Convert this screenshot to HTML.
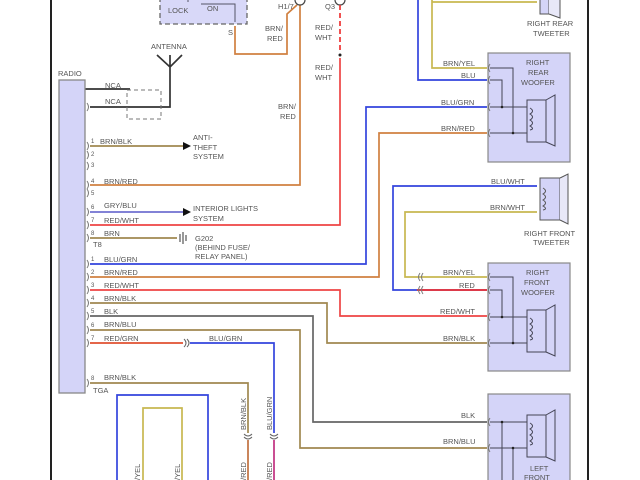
<!DOCTYPE html>
<html><head><meta charset="utf-8"><style>
html,body{margin:0;padding:0;background:#fff;width:640px;height:480px;overflow:hidden}
text{font-family:"Liberation Sans",sans-serif;font-size:7.5px;fill:#555}
.n{font-size:6px}
</style></head><body>
<svg width="640" height="480" viewBox="0 0 640 480" xmlns="http://www.w3.org/2000/svg">
<g fill="none" stroke-width="1.7">
<line x1="51" y1="0" x2="51" y2="480" stroke="#222" stroke-width="2"/>
<line x1="588" y1="0" x2="588" y2="480" stroke="#222" stroke-width="2"/>
<rect x="160" y="-4" width="87" height="28" fill="#d8d8f8" stroke="#666" stroke-dasharray="5,3" stroke-width="1.3"/>
<path d="M201 4H235V22" stroke="#556" stroke-width="1"/>
<line x1="188" y1="2" x2="188" y2="-2" stroke="#556" stroke-width="1"/>
<path d="M235 26V54H287V14L297 5" stroke="#d08040"/>
<path d="M300 4V185H90" stroke="#d08040"/>
<circle cx="300" cy="0" r="5" fill="#fff" stroke="#444" stroke-width="1.2"/>
<circle cx="340" cy="0" r="5" fill="#fff" stroke="#444" stroke-width="1.2"/>
<line x1="340" y1="5" x2="340" y2="50" stroke="#e33" stroke-dasharray="5,3"/>
<circle cx="340" cy="55" r="1.5" fill="#222" stroke="none"/>
<path d="M340 58V225H90" stroke="#e44"/>
<path d="M157 55L170 67L182 55M170 55V107H90" stroke="#333"/>
<line x1="85" y1="89" x2="130" y2="89" stroke="#333"/>
<rect x="127" y="90" width="34" height="29" stroke="#777" stroke-dasharray="4,3" stroke-width="1"/>
<rect x="59" y="80" width="26" height="313" fill="#d4d4f8" stroke="#888" stroke-width="1.3"/>
<line x1="90" y1="146" x2="188" y2="146" stroke="#a08850"/>
<polygon points="183,142 191,146 183,150" fill="#111" stroke="none"/>
<line x1="90" y1="212" x2="188" y2="212" stroke="#7070d0"/>
<polygon points="183,208 191,212 183,216" fill="#111" stroke="none"/>
<line x1="90" y1="238" x2="177" y2="238" stroke="#a08850"/>
<path d="M180 234V242M183 232V244M186 235V241" stroke="#333" stroke-width="1"/>
<path d="M90 264H366V107H487" stroke="#3344dd"/>
<path d="M90 277H379V133H487" stroke="#d08040"/>
<path d="M90 290H340V316H487" stroke="#e44"/>
<path d="M90 303H327V343H487" stroke="#a08850"/>
<path d="M90 316H313V422H487" stroke="#666"/>
<path d="M90 330H300V448H487" stroke="#a08850"/>
<path d="M90 343H183" stroke="#e05030"/>
<path d="M190 343H274V433" stroke="#3344dd"/>
<path d="M274 440V480" stroke="#c03080"/>
<path d="M90 383H248V433" stroke="#a08850"/>
<path d="M248 440V480" stroke="#c07040"/>
<path d="M184 339Q188 343 184 347M187 339Q191 343 187 347" stroke="#666" stroke-width="1"/>
<path d="M244 434Q248 438 252 434M244 437Q248 441 252 437M270 434Q274 438 278 434M270 437Q274 441 278 437" stroke="#666" stroke-width="1"/>
<path d="M117 480V395H208V480" stroke="#3344dd"/>
<path d="M143 480V408H182V480" stroke="#c8b850"/>
<path d="M418 0V80H487" stroke="#3344dd"/>
<path d="M432 0V68H487" stroke="#c8b850"/>
<path d="M432 2H537" stroke="#c8b850"/>
<rect x="540" y="-4" width="9" height="18" fill="#d4d4f8" stroke="#555" stroke-width="1"/>
<path d="M549 -4L560 -8V18L549 14" fill="#e8e8f8" stroke="#555" stroke-width="1"/>
<path d="M537 186H393V290H487" stroke="#3344dd"/>
<path d="M537 212H405V277H487" stroke="#c8b850"/>
<path d="M417 290H487" stroke="#e33"/>
<rect x="540" y="178" width="20" height="42" fill="#d4d4f8" stroke="#555" stroke-width="1"/>
<path d="M560 178L568 174V224L560 220" fill="#e8e8f8" stroke="#555" stroke-width="1"/>
<path d="M543 188q5 3 0 6q5 3 0 6q5 3 0 6q5 3 0 4" stroke="#555" stroke-width="1"/>
<rect x="488" y="53" width="82" height="109" fill="#d4d4f8" stroke="#888" stroke-width="1.2"/>
<rect x="488" y="263" width="82" height="108" fill="#d4d4f8" stroke="#888" stroke-width="1.2"/>
<rect x="488" y="394" width="82" height="100" fill="#d4d4f8" stroke="#888" stroke-width="1.2"/>
</g>
<g fill="none" stroke="#777" stroke-width="1">
<path d="M87 142q3 4 0 8M87 151q3 4 0 8M87 162q3 4 0 8M87 181q3 4 0 8M87 189q3 4 0 8M87 208q3 4 0 8M87 221q3 4 0 8M87 234q3 4 0 8M87 103q3 4 0 8"/>
<path d="M87 260q3 4 0 8M87 273q3 4 0 8M87 286q3 4 0 8M87 299q3 4 0 8M87 312q3 4 0 8M87 326q3 4 0 8M87 339q3 4 0 8M87 379q3 4 0 8"/>
<path d="M490 64q-3 4 0 8M490 76q-3 4 0 8M490 103q-3 4 0 8M490 129q-3 4 0 8M490 273q-3 4 0 8M490 286q-3 4 0 8M490 313q-3 4 0 8M490 339q-3 4 0 8M490 418q-3 4 0 8M490 444q-3 4 0 8"/>
<path d="M420 273q-3 4 0 8M423 273q-3 4 0 8M420 286q-3 4 0 8M423 286q-3 4 0 8"/>
</g>
<g fill="none" stroke="#445" stroke-width="1">
<path d="M490 68H513V133M490 80H502V107M490 107H527M490 133H527"/>
<rect x="527" y="100" width="19" height="42"/><path d="M546 100L555 95V146L546 142"/>
<path d="M530 108q5 3 0 6q5 3 0 6q5 3 0 6q5 3 0 4"/>
<path d="M490 277H513V343M490 290H502V317M490 317H527M490 343H527"/>
<rect x="527" y="310" width="19" height="42"/><path d="M546 310L555 305V356L546 352"/>
<path d="M530 318q5 3 0 6q5 3 0 6q5 3 0 6q5 3 0 4"/>
<path d="M490 422H527M490 448H527M502 422V480M513 448V480"/>
<rect x="527" y="415" width="19" height="42"/><path d="M546 415L555 410V461L546 457"/>
<path d="M530 423q5 3 0 6q5 3 0 6q5 3 0 6q5 3 0 4"/>
</g>
<g fill="#222">
<circle cx="502" cy="107" r="1.3"/><circle cx="513" cy="133" r="1.3"/>
<circle cx="502" cy="317" r="1.3"/><circle cx="513" cy="343" r="1.3"/>
<circle cx="502" cy="422" r="1.3"/><circle cx="513" cy="448" r="1.3"/>
</g>
<text x="168" y="13">LOCK</text><text x="207" y="11">ON</text><text x="228" y="35">S</text>
<text x="278" y="9">H1/7</text><text x="325" y="9">Q3</text>
<text x="265" y="31">BRN/</text><text x="267" y="41">RED</text>
<text x="278" y="109">BRN/</text><text x="280" y="119">RED</text>
<text x="315" y="30">RED/</text><text x="315" y="40">WHT</text>
<text x="315" y="70">RED/</text><text x="315" y="80">WHT</text>
<text x="151" y="49">ANTENNA</text><text x="58" y="76">RADIO</text>
<text x="105" y="88">NCA</text><text x="105" y="104">NCA</text>
<text x="100" y="144">BRN/BLK</text><text x="104" y="184">BRN/RED</text>
<text x="104" y="208">GRY/BLU</text><text x="104" y="223">RED/WHT</text><text x="104" y="236">BRN</text>
<text x="193" y="140">ANTI-</text><text x="193" y="150">THEFT</text><text x="193" y="159">SYSTEM</text>
<text x="193" y="211">INTERIOR LIGHTS</text><text x="193" y="221">SYSTEM</text>
<text x="195" y="241">G202</text><text x="195" y="250">(BEHIND FUSE/</text><text x="195" y="259">RELAY PANEL)</text>
<text x="93" y="247">T8</text><text x="93" y="393">TGA</text>
<text class="n" x="91" y="143">1</text><text class="n" x="91" y="156">2</text><text class="n" x="91" y="167">3</text><text class="n" x="91" y="183">4</text><text class="n" x="91" y="195">5</text><text class="n" x="91" y="209">6</text><text class="n" x="91" y="222">7</text><text class="n" x="91" y="235">8</text>
<text class="n" x="91" y="261">1</text><text class="n" x="91" y="274">2</text><text class="n" x="91" y="287">3</text><text class="n" x="91" y="300">4</text><text class="n" x="91" y="313">5</text><text class="n" x="91" y="327">6</text><text class="n" x="91" y="340">7</text><text class="n" x="91" y="380">8</text>
<text x="104" y="262">BLU/GRN</text><text x="104" y="275">BRN/RED</text><text x="104" y="288">RED/WHT</text>
<text x="104" y="301">BRN/BLK</text><text x="104" y="314">BLK</text><text x="104" y="327">BRN/BLU</text>
<text x="104" y="341">RED/GRN</text><text x="209" y="341">BLU/GRN</text><text x="104" y="380">BRN/BLK</text>
<text x="443" y="66">BRN/YEL</text><text x="461" y="78">BLU</text><text x="441" y="105">BLU/GRN</text><text x="441" y="131">BRN/RED</text>
<text x="526" y="65">RIGHT</text><text x="528" y="75">REAR</text><text x="521" y="85">WOOFER</text>
<text x="527" y="26">RIGHT REAR</text><text x="533" y="36">TWEETER</text>
<text x="491" y="184">BLU/WHT</text><text x="490" y="210">BRN/WHT</text>
<text x="524" y="236">RIGHT FRONT</text><text x="533" y="245">TWEETER</text>
<text x="443" y="275">BRN/YEL</text><text x="459" y="288">RED</text><text x="440" y="314">RED/WHT</text><text x="443" y="341">BRN/BLK</text>
<text x="526" y="275">RIGHT</text><text x="524" y="285">FRONT</text><text x="521" y="295">WOOFER</text>
<text x="461" y="418">BLK</text><text x="443" y="444">BRN/BLU</text>
<text x="530" y="471">LEFT</text><text x="524" y="480">FRONT</text>
<text transform="translate(246,430) rotate(-90)">BRN/BLK</text>
<text transform="translate(272,430) rotate(-90)">BLU/GRN</text>
<text transform="translate(246,480) rotate(-90)">/RED</text><text transform="translate(272,480) rotate(-90)">/RED</text>
<text transform="translate(140,480) rotate(-90)">/YEL</text><text transform="translate(180,480) rotate(-90)">/YEL</text>
</svg>
</body></html>
